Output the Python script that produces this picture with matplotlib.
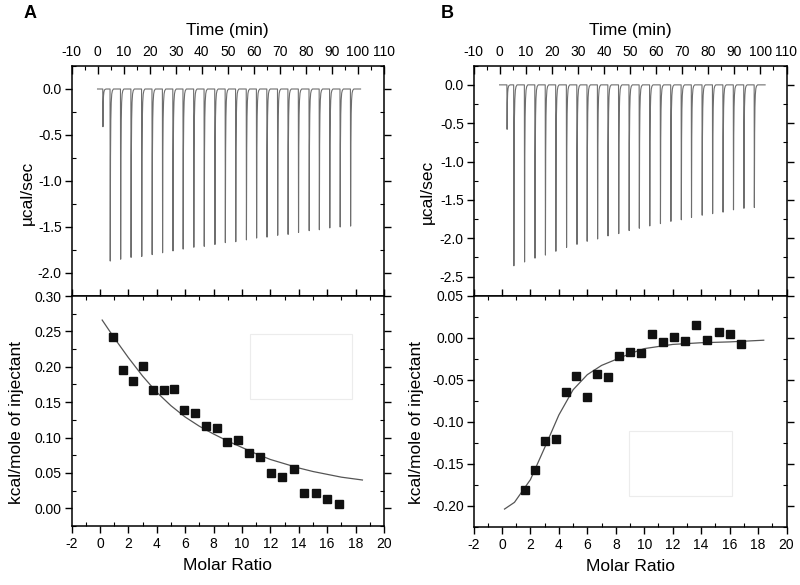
import matplotlib
matplotlib.use('Agg')
import matplotlib.pyplot as plt
import numpy as np
from matplotlib.ticker import MultipleLocator, FormatStrFormatter
from matplotlib.patches import Rectangle

plt.rcParams['font.family'] = ['Liberation Sans', 'DejaVu Sans']
plt.rcParams['axes.unicode_minus'] = False

# ---------------- Panel A data ----------------
a_inj_time = [2.0, 4.8, 8.8, 12.8, 16.9, 20.9, 24.9, 28.9, 32.8, 36.9, 40.9, 45.0,
              49.0, 53.0, 57.1, 61.0, 65.0, 69.1, 73.1, 77.1, 81.2, 85.1, 89.1, 93.1, 97.1]
a_inj_depth = [-0.41, -1.87, -1.85, -1.83, -1.82, -1.80, -1.78, -1.76, -1.74, -1.72,
               -1.71, -1.69, -1.67, -1.66, -1.64, -1.62, -1.61, -1.59, -1.58, -1.56,
               -1.54, -1.53, -1.51, -1.50, -1.49]
a_base_start, a_base_end = 0.0, 101.0

a_ratio = [0.89, 1.62, 2.32, 3.04, 3.77, 4.50, 5.22, 5.95, 6.72, 7.47, 8.22,
           8.97, 9.74, 10.49, 11.26, 12.06, 12.83, 13.63, 14.40, 15.22, 16.02, 16.84]
a_heat = [0.242, 0.195, 0.180, 0.201, 0.167, 0.167, 0.168, 0.139, 0.135, 0.116, 0.113,
          0.093, 0.096, 0.078, 0.072, 0.050, 0.044, 0.055, 0.021, 0.021, 0.013, 0.006]
a_fit_x = [0.16, 1, 2, 3, 4, 5, 6, 7, 8, 9, 10, 11, 12, 13, 14, 15, 16, 17, 18.48]
a_fit_y = [0.266, 0.241, 0.213, 0.187, 0.164, 0.145, 0.129, 0.116, 0.105, 0.095, 0.086,
           0.077, 0.069, 0.063, 0.057, 0.052, 0.048, 0.044, 0.040]

# ---------------- Panel B data ----------------
b_inj_time = [2.8, 5.4, 9.5, 13.5, 17.5, 21.5, 25.6, 29.6, 33.5, 37.5, 41.5, 45.6,
              49.6, 53.5, 57.5, 61.6, 65.6, 69.6, 73.5, 77.6, 81.6, 85.6, 89.6, 93.6, 97.6]
b_inj_depth = [-0.58, -2.36, -2.31, -2.26, -2.22, -2.17, -2.12, -2.08, -2.04, -2.01,
               -1.97, -1.94, -1.90, -1.87, -1.84, -1.81, -1.78, -1.76, -1.73, -1.70,
               -1.68, -1.66, -1.63, -1.61, -1.60]
b_base_start, b_base_end = 0.0, 101.8

b_ratio = [1.61, 2.31, 3.02, 3.77, 4.47, 5.22, 5.97, 6.70, 7.47, 8.20, 8.98,
           9.75, 10.52, 11.29, 12.07, 12.86, 13.64, 14.44, 15.24, 16.04, 16.83]
b_heat = [-0.181, -0.157, -0.123, -0.120, -0.065, -0.046, -0.071, -0.043, -0.047, -0.022,
          -0.017, -0.018, 0.005, -0.005, 0.001, -0.004, 0.015, -0.003, 0.007, 0.005, -0.007]
b_fit_x = [0.18, 0.88, 2, 3, 4, 5, 6, 7, 8, 9, 10, 12, 14, 16, 18.4]
b_fit_y = [-0.204, -0.196, -0.169, -0.131, -0.092, -0.062, -0.044, -0.033, -0.026,
           -0.019, -0.013, -0.008, -0.006, -0.005, -0.003]

# peak shape template (style): time offsets and fraction of depth
shape_dt = [0.0, 0.08, 0.18, 0.3, 0.45, 0.65, 0.9, 1.3]
shape_fr = [0.0, 1.0, 0.40, 0.18, 0.08, 0.03, 0.01, 0.0]


def thermogram(times, depths, t0, t1):
    xs, ys = [t0], [0.0]
    for t, d in zip(times, depths):
        for dt, fr in zip(shape_dt, shape_fr):
            xs.append(t + dt)
            ys.append(d * fr)
    xs.append(t1)
    ys.append(0.0)
    return xs, ys


fig = plt.figure(figsize=(8.0, 5.85), dpi=100)

TICKFS = 10
LABFS = 12.5
trace_col = '#6e6e6e'
fit_col = '#555555'


def style_top(ax, ylim, ymaj, ymin):
    ax.set_xlim(-10, 110)
    ax.set_ylim(*ylim)
    ax.xaxis.set_major_locator(MultipleLocator(10))
    ax.xaxis.set_minor_locator(MultipleLocator(5))
    ax.yaxis.set_major_locator(MultipleLocator(ymaj))
    ax.yaxis.set_minor_locator(MultipleLocator(ymin))
    ax.xaxis.set_ticks_position('top')
    ax.xaxis.set_label_position('top')
    ax.tick_params(axis='x', which='both', top=True, bottom=False, labeltop=True,
                   labelbottom=False, direction='in')
    ax.tick_params(axis='x', which='major', length=6, width=1, pad=5, labelsize=TICKFS)
    ax.tick_params(axis='x', which='minor', length=3, width=0.8)
    ax.tick_params(axis='y', which='both', left=True, right=True)
    ax.tick_params(axis='y', which='major', direction='out', length=5, width=1,
                   pad=2, labelsize=TICKFS)
    ax.tick_params(axis='y', which='minor', direction='in', length=3, width=0.8)
    ax.set_xlabel('Time (min)', fontsize=LABFS, labelpad=7)
    ax.set_ylabel('µcal/sec', fontsize=LABFS)
    ax.yaxis.set_major_formatter(FormatStrFormatter('%.1f'))
    for s in ax.spines.values():
        s.set_linewidth(1.1)


def style_bot(ax, ylim, ymaj, ymin):
    ax.set_xlim(-2, 20)
    ax.set_ylim(*ylim)
    ax.xaxis.set_major_locator(MultipleLocator(2))
    ax.xaxis.set_minor_locator(MultipleLocator(1))
    ax.yaxis.set_major_locator(MultipleLocator(ymaj))
    ax.yaxis.set_minor_locator(MultipleLocator(ymin))
    ax.tick_params(axis='x', which='both', top=True, bottom=True)
    ax.tick_params(axis='x', which='major', direction='out', length=5, width=1,
                   pad=3, labelsize=TICKFS)
    ax.tick_params(axis='x', which='minor', direction='in', length=3, width=0.8)
    ax.tick_params(axis='y', which='both', left=True, right=True)
    ax.tick_params(axis='y', which='major', direction='out', length=5, width=1,
                   pad=2, labelsize=TICKFS)
    ax.tick_params(axis='y', which='minor', direction='in', length=3, width=0.8)
    ax.set_xlabel('Molar Ratio', fontsize=LABFS, labelpad=5)
    ax.set_ylabel('kcal/mole of injectant', fontsize=LABFS)
    ax.yaxis.set_major_formatter(FormatStrFormatter('%.2f'))
    for s in ax.spines.values():
        s.set_linewidth(1.1)


# ---- Panel A ----
axA1 = fig.add_axes([71.5 / 800, 1 - 296 / 585, 312.5 / 800, 230 / 585])
xs, ys = thermogram(a_inj_time, a_inj_depth, a_base_start, a_base_end)
axA1.plot(xs, ys, color=trace_col, lw=0.8)
style_top(axA1, (-2.25, 0.25), 0.5, 0.25)

axA2 = fig.add_axes([71.5 / 800, 1 - 526 / 585, 312.5 / 800, 230 / 585])
axA2.plot(a_fit_x, a_fit_y, color=fit_col, lw=0.9)
axA2.plot(a_ratio, a_heat, 's', color='#111111', ms=5.3)
style_bot(axA2, (-0.025, 0.30), 0.05, 0.025)
axA2.add_patch(Rectangle((0.571, 0.552), 0.327, 0.283, transform=axA2.transAxes,
                         fill=False, edgecolor='#ececec', lw=0.8))

# ---- Panel B ----
axB1 = fig.add_axes([473.5 / 800, 1 - 295.7 / 585, 313 / 800, 230 / 585])
xs, ys = thermogram(b_inj_time, b_inj_depth, b_base_start, b_base_end)
axB1.plot(xs, ys, color=trace_col, lw=0.8)
style_top(axB1, (-2.75, 0.25), 0.5, 0.25)

axB2 = fig.add_axes([473.5 / 800, 1 - 526.7 / 585, 313 / 800, 231 / 585])
axB2.plot(b_fit_x, b_fit_y, color=fit_col, lw=0.9)
axB2.plot(b_ratio, b_heat, 's', color='#111111', ms=5.3)
style_bot(axB2, (-0.225, 0.05), 0.05, 0.025)
axB2.add_patch(Rectangle((0.496, 0.134), 0.329, 0.282, transform=axB2.transAxes,
                         fill=False, edgecolor='#ececec', lw=0.8))

axA1.yaxis.set_label_coords(-0.117, 0.45)
axA2.yaxis.set_label_coords(-0.152, 0.45)
axB1.yaxis.set_label_coords(-0.123, 0.45)
axB2.yaxis.set_label_coords(-0.158, 0.45)

fig.text(30 / 800, 1 - 14 / 585, 'A', fontsize=13, fontweight='bold', ha='center', va='center')
fig.text(447 / 800, 1 - 14 / 585, 'B', fontsize=13, fontweight='bold', ha='center', va='center')

fig.savefig('out.png', dpi=100)
